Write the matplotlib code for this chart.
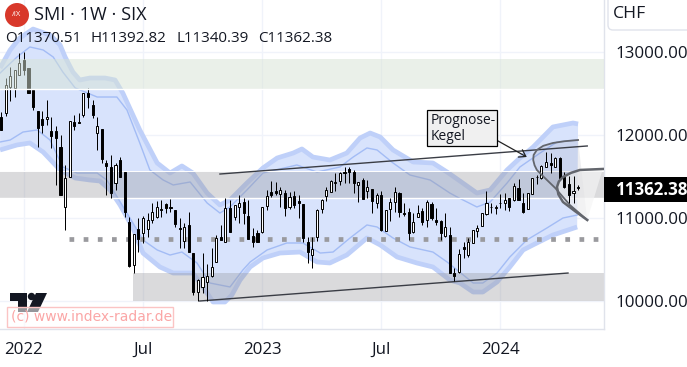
import matplotlib
matplotlib.use("Agg")
import matplotlib.pyplot as plt
import numpy as np
from matplotlib.patches import Rectangle, Circle, Polygon, FancyBboxPatch
from matplotlib.transforms import Affine2D

# ---- weekly candles (price) ----
opens = [12217,12265,12579,12567,12723,12904,12808,12543,12290,12193,12193,12048,12048,11856,11133,11494,12157,12157,12241,12506,12362,12024,12073,11663,11615,11422,11699,11554,
         10952,10434,10868,10820,10868,10976,11012,11109,11169,11133,11096,10880,10723,10916,10578,10108,10169,10229,10301,10470,10771,10711,
         11121,11012,11133,11193,11024,10783,10820,10832,11145,11313,11325,11289,11301,11133,11265,11205,11169,10711,10554,10771,11109,11265,11313,11425,11446,11554,11591,11554,11398,11458,11325,11350,11181,11277,10844,11109,11193,11301,11060,11072,10832,11012,11084,10976,11169,10976,10964,10783,10795,10337,
         10349,10651,10554,10699,10844,10904,11048,11130,11125,11181,11181,11241,11217,11362,11181,11109,11289,11490,11482,11615,11663,11615,11723,11494,11410,11301,11370.51]
highs = [12277,12687,12820,12784,12988,13000,12808,12543,12290,12290,12422,12217,12109,12000,11639,12169,12241,12265,12506,12567,12422,12217,12073,11699,11760,11663,11735,11554,
         11012,10807,11000,11024,11060,11181,11205,11217,11181,11229,11096,11000,10940,11072,10578,10265,10578,10446,10639,10795,10916,11241,
         11217,11157,11277,11241,11217,10880,10856,11133,11338,11446,11434,11374,11338,11313,11325,11277,11169,10771,10771,11109,11229,11374,11458,11542,11554,11615,11615,11579,11434,11482,11458,11350,11301,11325,11096,11241,11374,11313,11181,11121,11060,11157,11121,11217,11193,11121,10976,11060,10892,10398,
         10627,10711,10759,10856,10916,11060,11325,11181,11157,11289,11301,11241,11422,11470,11301,11301,11482,11518,11639,11795,11783,11735,11735,11554,11506,11506,11392.82]
lows = [12061,12229,12410,12458,12723,12723,12506,12302,11856,12024,12121,11844,11398,11277,10856,11494,12061,12145,12217,12326,12205,11820,11663,11277,11241,11338,11494,11012,
        10410,10337,10590,10699,10771,10940,11000,11012,11060,11072,10892,10639,10639,10590,10072,10000,10096,10000,10289,10470,10735,10711,
        10832,10976,10940,10928,10747,10651,10711,10820,11096,11253,11277,11133,11024,11109,11121,11000,10711,10458,10398,10723,11060,11205,11313,11325,11398,11422,11422,11301,11193,11229,11241,11060,11121,10844,10844,10964,11072,11012,11024,10735,10820,11012,10916,10892,10976,10916,10735,10771,10337,10241,
        10337,10518,10530,10699,10771,10904,11036,11060,11048,11121,11096,11084,11205,11217,11060,11109,11289,11410,11470,11615,11542,11615,11482,11362,11133,11181,11340.39]
closes = [12061,12603,12711,12784,12868,12784,12506,12338,12085,12121,12217,11988,11964,11277,11482,12169,12109,12145,12506,12458,12241,12109,11711,11627,11301,11639,11494,11072,
          10422,10807,10747,11000,10976,11072,11133,11100,11121,11125,10928,10870,10892,10590,10108,10253,10289,10301,10410,10759,10735,11121,
          10832,11157,11181,11060,10747,10711,10711,11133,11265,11277,11301,11338,11121,11253,11157,11181,10759,10590,10627,11096,11217,11338,11446,11434,11542,11542,11554,11422,11434,11229,11374,11205,11277,10856,11096,11193,11313,11072,11052,10820,10952,11060,10952,11193,11000,10952,10820,10892,10337,10301,
          10566,10627,10711,10856,10880,11060,11181,11133,11133,11175,11217,11133,11386,11217,11072,11301,11482,11494,11627,11675,11639,11723,11482,11374,11277,11325,11362.38]

# ---- envelope curves (week index, price) ----
upper_outer_w = [-0.2,2.0,4.1,7.0,10.7,12.9,14,15.7,17.2,19.4,22.7,24.9,26.6,30.3,34.1,36.9,39.5,41.9,45,47.8,50,53.7,57.2,60.3,63.8,65.7,68.1,71.8,75.5,78.4,80.6,82.8,85.6,90,94.3,97.4,100.2,103.9,106.8,110.5,113.3,116.2,120.5,124.9,126]
upper_outer_p = [12808,13025,13169,13277,13205,13085,12940,12759,12663,12687,12687,12663,12506,12061,11663,11542,11627,11542,11301,11157,11217,11422,11603,11723,11783,11832,11735,11699,11783,11964,12024,11976,11820,11675,11663,11554,11446,11301,11338,11579,11723,11856,12097,12145,12133]
upper_inner_w = [-0.2,3.5,6.3,9.2,11.4,13.5,16.2,21,25.3,27.5,30.3,32.5,35.4,37.6,41.3,45,47.8,50,53.7,57.2,64.6,69,74,76.9,79.9,82.1,85.6,89.3,93.7,98,99.6,103.9,106.8,110.5,113.3,117.7,121.4,125.8]
upper_inner_p = [12747,12940,13061,13025,12940,12759,12567,12458,12458,12302,11904,11579,11458,11398,11434,11181,11060,11133,11338,11542,11639,11554,11615,11735,11844,11820,11663,11518,11458,11301,11253,11133,11193,11422,11615,11783,11916,11940]
lower_inner_w = [-0.2,2,4.8,7.9,10.7,13.5,16.6,21,23.1,25.5,28.8,31,34.1,36.9,39.5,42.8,45.6,50,52.8,54.4,58.1,62.4,65.9,69.7,72.5,76.2,79.9,82.1,85.6,89.3,94.3,97.4,99.6,103.1,105.2,108.3,111.1,114.8,119.2,122.7,125.8]
lower_inner_p = [11916,11940,12036,12061,11940,11615,11542,11542,11458,11241,10940,10735,10615,10554,10590,10458,10217,10169,10373,10470,10615,10699,10699,10578,10590,10759,10916,10892,10759,10651,10590,10470,10373,10217,10217,10337,10530,10735,10880,11000,11036]
lower_outer_w = [-0.2,3.5,6.3,9.2,12.9,16.2,19.4,21.6,23.8,26,28.8,31,34.7,37.6,41.9,44.1,46.3,48.9,50.4,52.2,54.4,57.2,60.9,65.3,69,71.8,75.5,79.9,82.8,86.5,90.8,94.3,98,100.2,103.1,105.2,108.3,111.1,114,117,120.5,125.8]
lower_outer_p = [11820,11880,11904,11795,11579,11482,11458,11446,11338,11157,10880,10578,10410,10337,10337,10169,9988,9988,10072,10253,10410,10518,10578,10590,10470,10458,10554,10759,10675,10530,10458,10410,10253,10217,10108,10108,10229,10410,10615,10699,10795,10892]

# ---- drawn objects ----
zone_green = (12555, 12916)
zone_mid = (11241, 11567)
zone_low = (10000, 10337)
zone_low_start = 28.8
support_level = 10747
support_start = 14.9
trend_upper_w, trend_upper_p = [47.8, 128], [11530, 11868]
trend_lower_w, trend_lower_p = [43.4, 123.8], [10000, 10337]
cone1_w = [126,123,120.5,118.4,117,116.3,116.2,116.5,117,118.6,121,124.2,128]
cone1_p = [11940,11925,11904,11870,11820,11760,11699,11635,11579,11490,11362,11157,10976]
cone2_w = [131.4,126.4,124.5,122.7,121.8,121.4,121.7,122.7,125.3,128]
cone2_p = [11591,11579,11545,11494,11440,11374,11285,11193,11084,10976]

tick_weeks = [5, 31, 57, 83, 109]
tick_labels = ["2022", "Jul", "2023", "Jul", "2024"]
price_ticks = [10000, 11000, 12000, 13000]
last_price = "11362.38"
ohlc_labels = ["O11370.51", "H11392.82", "L11340.39", "C11362.38"]

W, H = 687, 367
plt.rcParams["font.family"] = ["Open Sans", "DejaVu Sans"]
fig = plt.figure(figsize=(W/100, H/100), dpi=100)
ax = fig.add_axes([0, (H-329)/H, 604/W, 329/H])
px = Affine2D().scale(1, -1).translate(0, H)   # pixel coordinates from top-left

weeks = np.arange(len(opens))
ax.set_xlim((0-1)/4.58, (604-1)/4.58)
ax.set_ylim(13627-12.05*329, 13627)

ink = "#131722"
ax.set_xticks(tick_weeks, tick_labels)
ax.set_yticks(price_ticks, [f"{p}.00" for p in price_ticks])
ax.yaxis.tick_right()
ax.tick_params(axis="both", length=0, labelsize=12.2, labelcolor=ink)
ax.tick_params(axis="x", pad=9)
ax.tick_params(axis="y", pad=8)
ax.grid(True, color="#f0f3fa", lw=1)
ax.set_axisbelow(True)
for s in ["top", "left"]:
    ax.spines[s].set_visible(False)
for s in ["right", "bottom"]:
    ax.spines[s].set_color("#e0e3eb")
    ax.spines[s].set_linewidth(1)

# envelope
poly = np.column_stack([upper_outer_w + lower_outer_w[::-1], upper_outer_p + lower_outer_p[::-1]])
ax.add_patch(Polygon(poly, closed=True, fc="#d8e3fc", ec="none", zorder=1))
for w, p in [(upper_outer_w, upper_outer_p), (lower_outer_w, lower_outer_p)]:
    ax.plot(w, p, color="#bfd0f9", lw=3.4, zorder=1.5, solid_joinstyle="round", solid_capstyle="butt")
for w, p in [(upper_inner_w, upper_inner_p), (lower_inner_w, lower_inner_p)]:
    ax.plot(w, p, color="#a3bcf5", lw=1.0, zorder=1.6, solid_joinstyle="round")

# gray zones
xmin, xmax = ax.get_xlim()
zone_rgba = (150/255, 150/255, 155/255, 0.35)
ax.add_patch(Rectangle((xmin, zone_mid[0]), xmax-xmin, zone_mid[1]-zone_mid[0], fc=zone_rgba, ec="none", zorder=2))
ax.add_patch(Rectangle((zone_low_start, zone_low[0]), xmax-zone_low_start, zone_low[1]-zone_low[0], fc=zone_rgba, ec="none", zorder=2))
ax.plot([xmin, xmax], [zone_mid[0]]*2, color="white", lw=1, zorder=2.1)
ax.plot([xmin, xmax], [zone_mid[1]]*2, color="white", lw=0.7, zorder=2.1)

# cone fills
ax.add_patch(Polygon(np.column_stack([cone1_w, cone1_p]), closed=True, fc=(0.3, 0.3, 0.4, 0.09), ec="none", zorder=2.2))
ax.add_patch(Polygon(np.column_stack([cone2_w, cone2_p]), closed=True, fc=(0.96, 0.96, 0.96, 0.65), ec="none", zorder=2.3))

# support
ax.plot([support_start, xmax], [support_level]*2, color="#9a9a9e", lw=3.4, ls=(0, (1, 2)),
        dash_capstyle="butt", zorder=2.5)

# trend lines and cone lines
ax.plot(trend_upper_w, trend_upper_p, color="#3a3d45", lw=1.0, zorder=3)
ax.plot(trend_lower_w, trend_lower_p, color="#3a3d45", lw=1.0, zorder=3)
ax.plot(cone1_w, cone1_p, color="#63666d", lw=1.3, zorder=5, solid_joinstyle="round")
ax.plot(cone2_w, cone2_p, color="#63666d", lw=1.8, zorder=5, solid_joinstyle="round")

# candles
o, h, l, c = map(np.array, (opens, highs, lows, closes))
up = c >= o
ax.vlines(weeks, l, h, color="black", lw=0.72, zorder=4)
bottom = np.minimum(o, c)
height = np.maximum(np.abs(c-o), 8)
ax.bar(weeks, height, bottom=bottom, width=0.46, color=["white" if u else "black" for u in up],
       edgecolor="black", linewidth=0.7, zorder=4.2)

# green zone above the candles
ax.add_patch(Rectangle((xmin, zone_green[0]), xmax-xmin, zone_green[1]-zone_green[0],
                       fc=(0.843, 0.89, 0.835, 0.5), ec="none", zorder=6))
ax.plot([xmin, xmax], [zone_green[0]]*2, color="white", lw=1, zorder=6.1)

# label box and arrow
fig.add_artist(Rectangle((427, 110), 70, 36, transform=px, fc="#f0f0f0", ec="black", lw=0.9, zorder=7))
fig.text(431, 128.5, "Prognose-\nKegel", transform=px, fontsize=9.9, color=ink, va="center", ha="left",
         linespacing=1.05, zorder=8)
ax.annotate("", xy=(114.8, 11735), xytext=(104.8, 12043),
            arrowprops=dict(arrowstyle="->,head_length=0.45,head_width=0.3", color="#222", lw=0.9,
                            shrinkA=0, shrinkB=0), zorder=8)

# last price tag
fig.add_artist(Rectangle((604, 177), 83, 25, transform=px, fc="black", ec="none", zorder=9))
fig.text(616, 190, last_price, transform=px, fontsize=12.2, color="white", fontweight="bold",
         va="center", ha="left", zorder=10)

# currency selector
fig.add_artist(FancyBboxPatch((608, -8), 92, 38, boxstyle="round,pad=0,rounding_size=5", transform=px,
                              fc="white", ec="#e0e3eb", lw=1, zorder=9))
fig.text(613, 13.5, "CHF", transform=px, fontsize=12.6, color=ink, va="center", ha="left", zorder=10)

# header
fig.add_artist(Circle((17, 15), 12, transform=px, fc="#d8382a", ec="none", zorder=9))
fig.text(17, 15, "/IX", transform=px, fontsize=5.5, color="white", va="center", ha="center", zorder=10)
fig.text(34, 15, "SMI · 1W · SIX", transform=px, fontsize=13.1, color=ink, va="center", ha="left", zorder=10)
for x0, lab in zip([5, 91, 176, 258], ohlc_labels):
    fig.text(x0, 39, lab, transform=px, fontsize=10.9, color=ink, va="center", ha="left", zorder=10)

# TradingView mark
for pts in ([(10, 293), (27, 293), (27, 312), (18, 312), (18, 301), (10, 301)],
            [(36, 293), (47, 293), (38, 312), (27, 312)]):
    fig.add_artist(Polygon(pts, closed=True, transform=px, fc=ink, ec="none", zorder=9))
fig.add_artist(Circle((31.5, 296.5), 3.7, transform=px, fc=ink, ec="none", zorder=9))

# watermark
fig.add_artist(Rectangle((6.5, 306.5), 166, 20.5, transform=px, fc=(1, 1, 1, 0.55), ec="#fbc4c4", lw=1, zorder=10))
fig.text(11, 317, "(c) www.index-radar.de", transform=px, fontsize=10, color="#fba6a6",
         family="DejaVu Sans", va="center", ha="left", zorder=11)

fig.savefig("out.png", dpi=100)
